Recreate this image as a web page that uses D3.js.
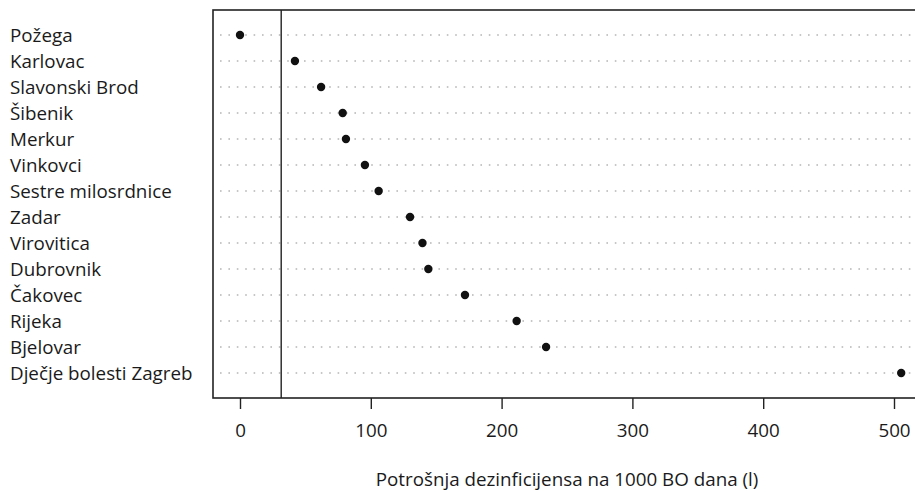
<!DOCTYPE html>
<html>
<head>
<meta charset="utf-8">
<script src="https://cdn.jsdelivr.net/npm/d3@7"></script>
<style>
html,body{margin:0;padding:0;background:#fff;overflow:hidden;}
text{font-family:"Open Sans",sans-serif;}
</style>
</head>
<body>
<svg id="chart" width="915" height="492"></svg>
<script>
const hospitals = ["Požega","Karlovac","Slavonski Brod","Šibenik","Merkur","Vinkovci","Sestre milosrdnice","Zadar","Virovitica","Dubrovnik","Čakovec","Rijeka","Bjelovar","Dječje bolesti Zagreb"];
const values = [0, 42, 62, 78.5, 81, 95.5, 106, 130, 139.5, 144, 172, 211.5, 234, 505.5];
const refValue = 31.5;
const xTicks = [0,100,200,300,400,500];
const xTitle = "Potrošnja dezinficijensa na 1000 BO dana (l)";

const svg = d3.select("#chart");
const box = {left:213, right:921, top:10, bottom:398};
const fs = 18.8;

const x = d3.scaleLinear().domain([0,500]).range([240,894]);
const y = d3.scalePoint().domain(hospitals).range([35,373]);

// dotted grid lines
svg.append("g").selectAll("line").data(hospitals).join("line")
  .attr("x1", 220).attr("x2", box.right)
  .attr("y1", d=>y(d)).attr("y2", d=>y(d))
  .attr("stroke","#b5b5b5").attr("stroke-width",1.6)
  .attr("stroke-dasharray","1.6,6.8");

// reference vertical line
svg.append("line")
  .attr("x1", x(refValue)).attr("x2", x(refValue))
  .attr("y1", box.top).attr("y2", box.bottom)
  .attr("stroke","#222").attr("stroke-width",1.4);

// box
svg.append("rect")
  .attr("x", box.left).attr("y", box.top)
  .attr("width", box.right-box.left).attr("height", box.bottom-box.top)
  .attr("fill","none").attr("stroke","#222").attr("stroke-width",1.6);

// points
svg.append("g").selectAll("circle").data(hospitals).join("circle")
  .attr("cx",(d,i)=>x(values[i])).attr("cy",d=>y(d))
  .attr("r",4.2).attr("fill","#111");

// category labels
svg.append("g").selectAll("text").data(hospitals).join("text")
  .attr("x",10).attr("y",d=>y(d)).attr("dy","0.36em")
  .attr("font-size",fs).attr("fill","#1a1a1a").text(d=>d);

// x axis
const xAxis = d3.axisBottom(x).tickValues(xTicks).tickSize(11).tickPadding(15);
const gx = svg.append("g").attr("transform",`translate(0,${box.bottom})`).call(xAxis);
gx.select(".domain").remove();
gx.selectAll(".tick line").attr("stroke","#222").attr("stroke-width",1.4);
gx.selectAll(".tick text").attr("font-size",fs).attr("fill","#1a1a1a").attr("font-family","Open Sans, sans-serif");

svg.append("text")
  .attr("x",(box.left+box.right)/2).attr("y",486)
  .attr("text-anchor","middle").attr("font-size",fs).attr("fill","#1a1a1a")
  .text(xTitle);
</script>
</body>
</html>
